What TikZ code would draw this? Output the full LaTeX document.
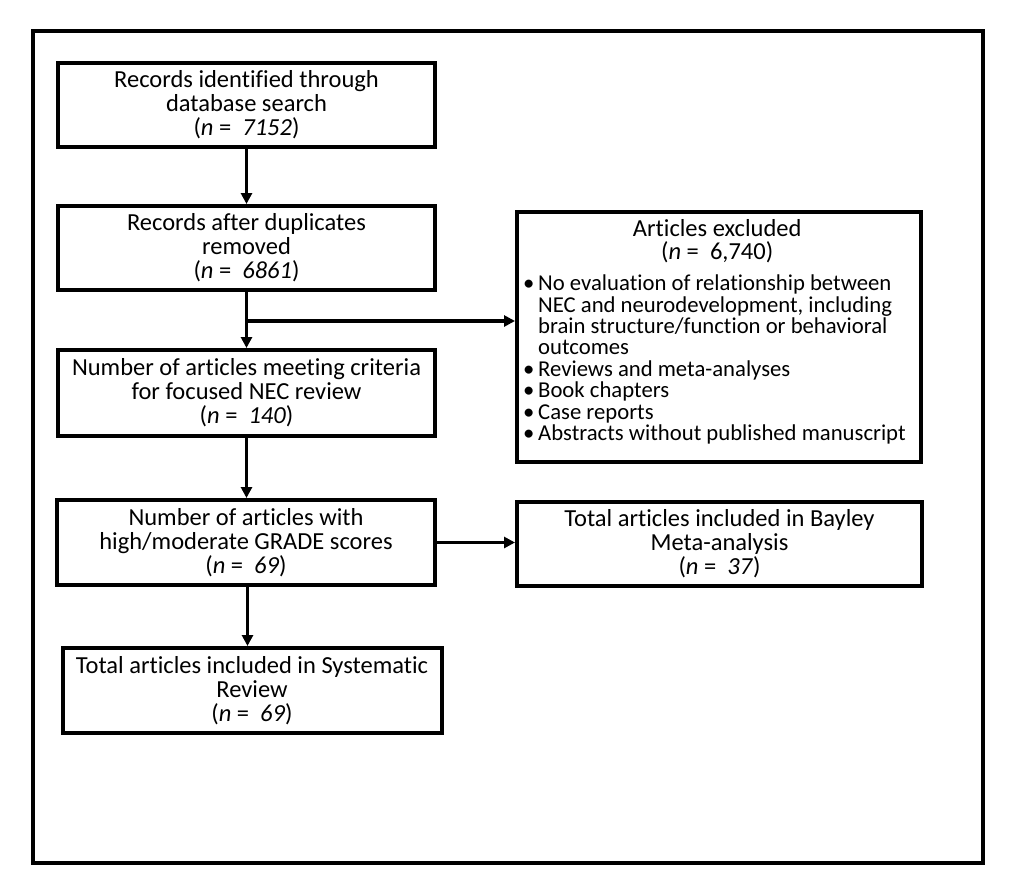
\documentclass[tikz,border=0pt]{standalone}
\usepackage{fontspec}
\setmainfont{Carlito}[Ligatures={NoCommon}]
\usetikzlibrary{arrows.meta,calc}
\begin{document}
\begin{tikzpicture}[x=1pt,y=-1pt,
  box/.style={draw, line width=4pt, inner sep=0pt, align=center,
    font=\fontsize{24.5}{24}\selectfont},
  arr/.style={line width=3.5pt, -{Triangle[length=11pt,width=11pt]}},
  frm/.style={draw, line width=4.5pt, inner sep=0pt}]
\useasboundingbox (0,0) rectangle (1012,878);
\node (frame) [frm, minimum width=950pt, minimum height=832pt] at (508,447) {};
\node (b1) [box, minimum width=377pt, minimum height=84pt] at (246.5,105)
  {Records identified through\\database search\\(\textit{n} =\ \ \textit{7152})};
\node (b2) [box, minimum width=377pt, minimum height=84pt] at (246.5,248)
  {Records after duplicates\\removed\\(\textit{n} =\ \ \textit{6861})};
\node (b3) [box, minimum width=377pt, minimum height=86pt] at (246.5,393)
  {Number of articles meeting criteria\\for focused NEC review\\(\textit{n} =\ \ \textit{140})};
\node (b4) [box, minimum width=378pt, minimum height=85pt] at (246,542.5)
  {Number of articles with\\high/moderate GRADE scores\\(\textit{n} =\ \ \textit{69})};
\node (b5) [box, minimum width=379pt, minimum height=85pt] at (252,690.5)
  {Total articles included in Systematic\\Review\\(\textit{n} =\ \ \textit{69})};
\node (ex) [box, minimum width=404pt, minimum height=250pt] at (719,337) {};
\node (exbody) [anchor=north west, inner sep=0pt, text width=388pt, align=left]
  at ([xshift=8pt,yshift=-9pt]ex.north west) {%
  \spaceskip=0pt\xspaceskip=0pt
  \fontsize{24.5}{23}\selectfont
  {\centering Articles excluded\\(\textit{n} =\ \ 6,740)\par}
  \vspace{10pt}%
  \fontsize{22.7}{21.4}\selectfont
  \noindent\hangindent=15pt\hangafter=1\makebox[15pt][l]{•}No evaluation of relationship between\newline NEC and neurodevelopment, including\newline brain structure/function or behavioral\newline outcomes\par
  \noindent\hangindent=15pt\hangafter=1\makebox[15pt][l]{•}Reviews and meta-analyses\par
  \noindent\hangindent=15pt\hangafter=1\makebox[15pt][l]{•}Book chapters\par
  \noindent\hangindent=15pt\hangafter=1\makebox[15pt][l]{•}Case reports\par
  \noindent\hangindent=15pt\hangafter=1\makebox[15pt][l]{•}Abstracts without published manuscript\par};
\node (bay) [box, minimum width=405pt, minimum height=84pt] at (719.5,544)
  {Total articles included in Bayley\\Meta-analysis\\(\textit{n} =\ \ \textit{37})};
\coordinate (j) at (246.5,321);
\draw[arr] (b1.south) -- (b1.south |- b2.north);
\draw[arr] (b2.south) -- (b2.south |- b3.north);
\draw[arr] (j) -- (j -| ex.west);
\draw[arr] (b3.south) -- (b3.south |- b4.north);
\draw[arr] (b4.east) -- (b4.east -| bay.west);
\draw[arr] ([xshift=1.5pt]b4.south) -- ([xshift=1.5pt]b4.south |- b5.north);
\end{tikzpicture}
\end{document}
